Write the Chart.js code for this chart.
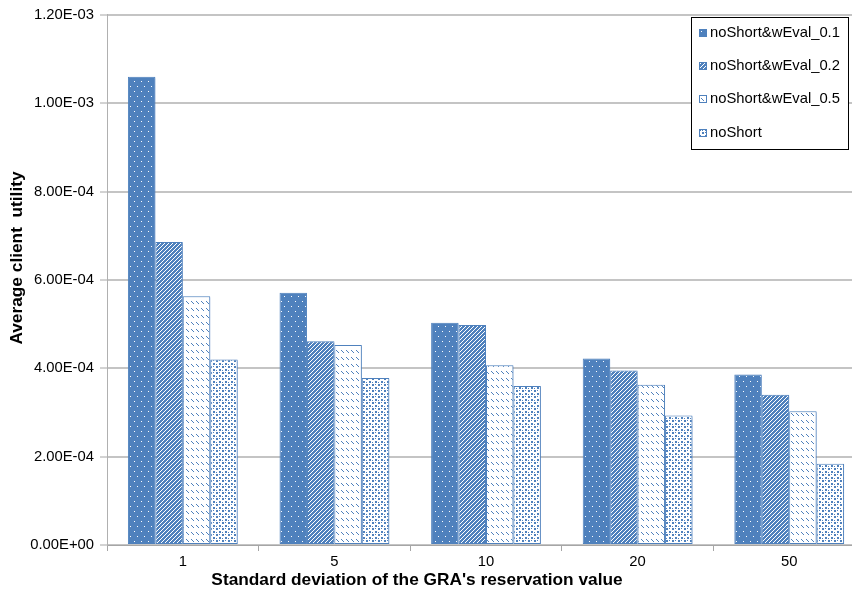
<!DOCTYPE html>
<html>
<head>
<meta charset="utf-8">
<script src="https://cdn.jsdelivr.net/npm/chart.js"></script>
<style>
    html, body { margin: 0; padding: 0; background: #fff; overflow: hidden; }
    #wrap { width: 852px; height: 599px; overflow: hidden; }
</style>
</head>
<body>
<div id="wrap"><canvas id="utility" width="866" height="599"></canvas></div>
<script>
// data
const categories = ["1", "5", "10", "20", "50"];
const seriesNames = ["noShort&wEval_0.1", "noShort&wEval_0.2", "noShort&wEval_0.5", "noShort"];
const wEval01 = [1.06e-3, 5.71e-4, 5.03e-4, 4.22e-4, 3.86e-4];
const wEval02 = [6.86e-4, 4.61e-4, 4.98e-4, 3.95e-4, 3.40e-4];
const wEval05 = [5.63e-4, 4.53e-4, 4.07e-4, 3.63e-4, 3.03e-4];
const noShort = [4.20e-4, 3.78e-4, 3.60e-4, 2.93e-4, 1.84e-4];
const yTicks = [0, 2e-4, 4e-4, 6e-4, 8e-4, 1e-3, 1.2e-3];

const BLUE = "#4F81BD";
const FONT = "'Liberation Sans', Arial, sans-serif";

// small pixel tiles for the excel-like fill patterns
function makePattern(w, h, bg, fg, isOn) {
    const c = document.createElement("canvas");
    c.width = w;
    c.height = h;
    const g = c.getContext("2d");
    g.fillStyle = bg;
    g.fillRect(0, 0, w, h);
    g.fillStyle = fg;
    for (let y = 0; y < h; y++) {
        for (let x = 0; x < w; x++) {
            if (isOn(x, y)) g.fillRect(x, y, 1, 1);
        }
    }
    return document.getElementById("utility").getContext("2d").createPattern(c, "repeat");
}

// blue with white dots
const dotsFill = makePattern(7, 10, BLUE, "#ffffff", (x, y) =>
    (x === 1 && y === 1) || (x === 4 && y === 6));
// wide upward diagonal
const diagFill = makePattern(4, 4, "#ffffff", BLUE, (x, y) => (x + y) % 4 < 3);
// dashed downward diagonal
const dashFill = makePattern(5, 7, "#ffffff", BLUE, (x, y) => y < 3 && x === y + 1);
// small confetti
const confettiBlocks = [[0, 0, 2], [3, 3, 2], [3, 0, 1], [0, 4, 1]];
const confettiFill = makePattern(6, 6, "#ffffff", BLUE, (x, y) =>
    confettiBlocks.some(b => x >= b[0] && x < b[0] + b[2] && y >= b[1] && y < b[1] + b[2]));

const fills = [dotsFill, diagFill, dashFill, confettiFill];
const values = [wEval01, wEval02, wEval05, noShort];

function sci(v) {
    const parts = Number(v).toExponential(2).split("e");
    const e = parseInt(parts[1], 10);
    return parts[0] + "E" + (e < 0 ? "-" : "+") + String(Math.abs(e)).padStart(2, "0");
}

// soft shadow on the right of the bars
const barShadow = {
    id: "barShadow",
    beforeDatasetsDraw(chart) {
        const ctx = chart.ctx;
        ctx.save();
        ctx.shadowColor = "rgba(79, 129, 189, 0.45)";
        ctx.shadowOffsetX = 2;
        ctx.shadowOffsetY = 1;
        ctx.shadowBlur = 1;
    },
    afterDatasetsDraw(chart) {
        chart.ctx.restore();
    },
};

// axis titles and the boxed legend
const decorations = {
    id: "decorations",
    afterDraw(chart) {
        const ctx = chart.ctx;
        ctx.save();
        ctx.fillStyle = "#000";
        ctx.font = "bold 17.3px " + FONT;
        ctx.textAlign = "center";
        ctx.textBaseline = "middle";
        ctx.fillText("Standard deviation of the GRA's reservation value", 417, 580);
        ctx.translate(17, 258);
        ctx.rotate(-Math.PI / 2);
        ctx.fillText("Average client  utility", 0, 0);
        ctx.restore();

        ctx.save();
        ctx.fillStyle = "#fff";
        ctx.fillRect(691, 17, 157, 132);
        ctx.strokeStyle = "#000";
        ctx.lineWidth = 1;
        ctx.strokeRect(691.5, 17.5, 157, 132);
        ctx.font = "14.8px " + FONT;
        ctx.textAlign = "left";
        ctx.textBaseline = "middle";
        chart.data.datasets.forEach((ds, i) => {
            const cy = 33 + i * 33.2;
            const y0 = Math.round(cy) - 4;
            ctx.fillStyle = ds.backgroundColor;
            ctx.fillRect(699, y0, 8, 8);
            ctx.strokeStyle = BLUE;
            ctx.strokeRect(699.5, y0 + 0.5, 7, 7);
            ctx.fillStyle = "#000";
            ctx.fillText(ds.label, 710, cy);
        });
        ctx.restore();
    },
};

const utility = document.getElementById("utility");
const utilityChart = new Chart(utility, {
    type: "bar",
    data: {
        labels: categories,
        datasets: seriesNames.map((name, i) => ({
            label: name,
            data: values[i],
            backgroundColor: fills[i],
            borderColor: BLUE,
            borderWidth: 1,
            borderSkipped: false,
            categoryPercentage: 0.724,
            barPercentage: 1,
        })),
    },
    options: {
        responsive: false,
        animation: false,
        devicePixelRatio: 1,
        layout: { padding: { top: 10, left: 0, right: 1, bottom: 0 } },
        plugins: {
            legend: { display: false },
            tooltip: { enabled: false },
        },
        scales: {
            x: {
                afterFit(scale) { scale.height = 54; },
                grid: {
                    drawOnChartArea: false,
                    drawTicks: true,
                    tickLength: 6,
                    tickColor: "#a6a6a6",
                    tickWidth: 1,
                },
                border: { color: "#a6a6a6", width: 1 },
                ticks: {
                    color: "#000",
                    padding: 2,
                    font: { family: FONT, size: 14.8 },
                },
            },
            y: {
                min: 0,
                max: yTicks[yTicks.length - 1],
                afterFit(scale) { scale.width = 107; },
                afterBuildTicks(scale) {
                    scale.ticks = yTicks.map(v => ({ value: v }));
                },
                grid: {
                    color: "#c4c4c4",
                    lineWidth: 2,
                    tickLength: 7,
                    tickColor: "#a6a6a6",
                    tickWidth: 1,
                },
                border: { color: "#b0b0b0", width: 1 },
                ticks: {
                    color: "#000",
                    padding: 6,
                    font: { family: FONT, size: 14.8 },
                    callback: v => sci(v),
                },
            },
        },
    },
    plugins: [barShadow, decorations],
});
</script>
</body>
</html>
